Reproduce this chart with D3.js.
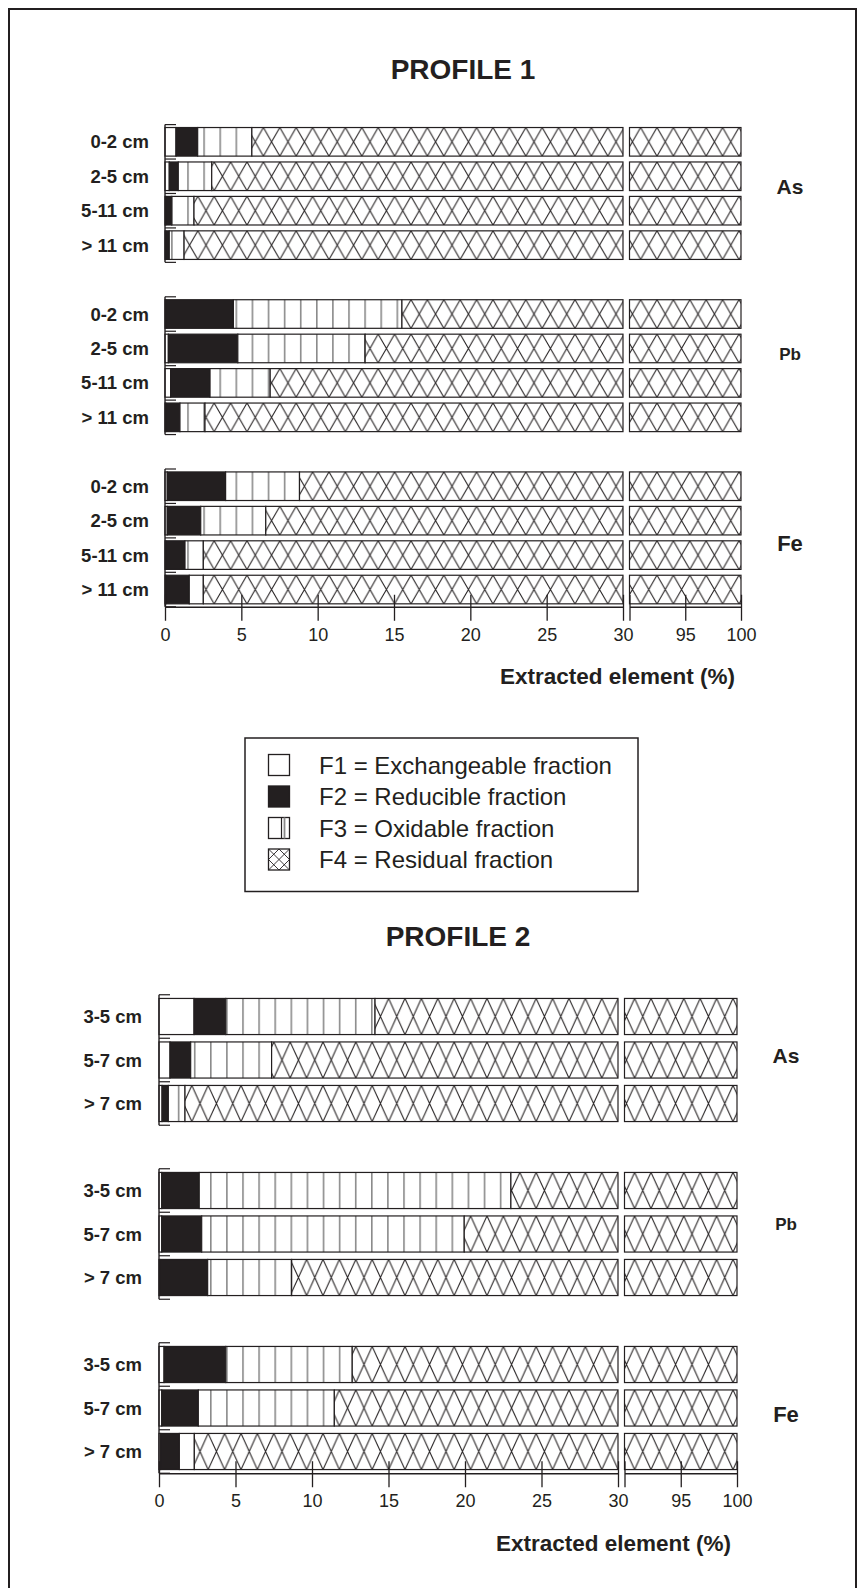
<!DOCTYPE html>
<html><head><meta charset="utf-8">
<script src="https://cdn.jsdelivr.net/npm/d3@7"></script>
<style>
body{margin:0;background:#fff;}
svg text{font-family:"Liberation Sans",Arial,Helvetica,sans-serif;fill:#231f20;}
</style></head><body>
<svg id="chart" width="863" height="1588"></svg>
<script>
// ---------- DATA ----------
const fractions = ["F1","F2","F3","F4"];
const legendLabels = ["F1 = Exchangeable fraction","F2 = Reducible fraction","F3 = Oxidable fraction","F4 = Residual fraction"];
const elements = ["As","Pb","Fe"];
const depths1 = ["0-2 cm","2-5 cm","5-11 cm","> 11 cm"];
const depths2 = ["3-5 cm","5-7 cm","> 7 cm"];
const tickLow = [0,5,10,15,20,25,30];
const tickHigh = [90,95,100];
const tickHighLabels = ["","95","100"];
const axisTitle = "Extracted element (%)";

// rows: [F1, F2, F3, F4] in % for each depth
const p1As = [[0.72,1.42,3.55,94.31],[0.28,0.59,2.19,96.94],[0.05,0.39,1.46,98.10],[0.05,0.23,0.97,98.75]];
const p1Pb = [[0.05,4.43,11.04,84.48],[0.22,4.55,8.34,86.89],[0.37,2.58,3.94,93.11],[0.05,0.93,1.64,97.38]];
const p1Fe = [[0.15,3.82,4.84,91.19],[0.15,2.19,4.26,93.40],[0.05,1.26,1.20,97.49],[0.05,1.54,0.92,97.49]];
const p2As = [[2.29,2.07,9.76,85.88],[0.72,1.35,5.29,92.64],[0.20,0.41,1.09,98.30]];
const p2Pb = [[0.18,2.45,20.37,77.00],[0.18,2.61,17.16,80.05],[0.05,3.13,5.49,91.33]];
const p2Fe = [[0.33,4.03,8.27,87.37],[0.18,2.39,8.89,88.54],[0.11,1.22,0.98,97.69]];

// ---------- LAYOUT ----------
const INK = "#231f20";
const charts = [
  {id:"p1", title:"PROFILE 1", titleX:463, titleY:69, depths:depths1,
   data:{As:p1As, Pb:p1Pb, Fe:p1Fe},
   x0:165, xa:623, xb:629.5, x1:741, top:124.6, step:34.44,
   stripeX:203.3, labelEnd:149, elemX:790, elemY:{As:186, Pb:354, Fe:543}},
  {id:"p2", title:"PROFILE 2", titleX:458, titleY:936, depths:depths2,
   data:{As:p2As, Pb:p2Pb, Fe:p2Fe},
   x0:159, xa:618, xb:624.5, x1:737, top:994.75, step:43.5,
   stripeX:210, labelEnd:142, elemX:786, elemY:{As:1055, Pb:1224, Fe:1414}}
];

const svg = d3.select("#chart");
const defs = svg.append("defs");

// outer frame
svg.append("rect").attr("x",9).attr("y",9).attr("width",847).attr("height",1620)
  .attr("fill","none").attr("stroke",INK).attr("stroke-width",2);

charts.forEach(c => {
  const keys = [];
  elements.forEach((e,g) => {
    if (g>0) keys.push("gap"+g);
    c.depths.forEach(d => keys.push(e+"|"+d));
  });
  const bottom = c.top + keys.length*c.step;
  const y = d3.scaleBand().domain(keys).range([c.top, bottom]).padding(0);
  const barOff = c.step*0.085, barH = c.step*0.83;

  const x = d3.scaleLinear().domain([0,30,90,100]).range([c.x0,c.xa,c.xb,c.x1]);
  const pieces = [[0,30],[90,100]];

  const sp = defs.append("pattern").attr("id","stripes-"+c.id)
    .attr("patternUnits","userSpaceOnUse").attr("x",c.stripeX).attr("y",0)
    .attr("width",16.1).attr("height",10);
  sp.append("rect").attr("width",16.1).attr("height",10).attr("fill","#fff");
  sp.append("line").attr("x1",0.8).attr("x2",0.8).attr("y1",0).attr("y2",10)
    .attr("stroke","#8a8a8a").attr("stroke-width",1.6);

  const g = svg.append("g");

  g.append("text").attr("x",c.titleX).attr("y",c.titleY).attr("text-anchor","middle")
    .attr("dominant-baseline","central").attr("font-size",28).attr("font-weight","bold").text(c.title);

  elements.forEach(e => {
    const rows = c.data[e];
    c.depths.forEach((d,i) => {
      const key = e+"|"+d;
      const by = y(key) + barOff;
      const hid = "hatch-"+c.id+"-"+e+"-"+i;
      const hw = 16.4;
      const hp = defs.append("pattern").attr("id",hid).attr("patternUnits","userSpaceOnUse")
        .attr("x",c.x0).attr("y",by).attr("width",hw).attr("height",barH);
      hp.append("rect").attr("width",hw).attr("height",barH).attr("fill","#fff");
      hp.append("path").attr("d",`M0,0L${hw},${barH}M${hw},0L0,${barH}M${-hw},0L0,${barH}M${hw},0L${2*hw},${barH}M0,0L${-hw},${barH}M${2*hw},0L${hw},${barH}`)
        .attr("stroke",INK).attr("stroke-width",1.1).attr("fill","none");
      const fills = ["#fff", INK, "url(#stripes-"+c.id+")", "url(#"+hid+")"];
      let cum = 0;
      rows[i].forEach((v,k) => {
        const s = cum, en = cum + v; cum = en;
        pieces.forEach(([lo,hi]) => {
          const a = Math.max(s,lo), b = Math.min(en,hi);
          if (b > a) {
            g.append("rect").attr("x",x(a)).attr("y",by)
              .attr("width",Math.max(0.01,x(b)-x(a))).attr("height",barH)
              .attr("fill",fills[k]).attr("stroke",INK).attr("stroke-width",1.2);
          }
        });
      });
      g.append("text").attr("x",c.labelEnd).attr("y",y(key)+c.step/2)
        .attr("text-anchor","end").attr("dominant-baseline","central")
        .attr("font-size",18.5).attr("font-weight","bold").text(d);
    });
    const first = y(e+"|"+c.depths[0]);
    const last = y(e+"|"+c.depths[c.depths.length-1]) + c.step;
    g.append("line").attr("x1",c.x0).attr("x2",c.x0).attr("y1",first).attr("y2",last)
      .attr("stroke",INK).attr("stroke-width",1.4);
    const edges = c.depths.map(dd => y(e+"|"+dd)).concat([last]);
    edges.forEach(ey => g.append("line").attr("x1",c.x0).attr("x2",c.x0+11)
      .attr("y1",ey).attr("y2",ey).attr("stroke",INK).attr("stroke-width",1.2));
    g.append("text").attr("x",c.elemX).attr("y",c.elemY[e]).attr("text-anchor","middle")
      .attr("dominant-baseline","central").attr("font-weight","bold")
      .attr("font-size", e==="Pb" ? 17 : (e==="Fe" ? 22 : 21)).text(e);
  });

  const xLow = d3.scaleLinear().domain([0,30]).range([c.x0,c.xa]);
  const xHigh = d3.scaleLinear().domain([90,100]).range([c.xb,c.x1]);
  const axLow = d3.axisBottom(xLow).tickValues(tickLow).tickSizeOuter(0).tickSizeInner(14).tickPadding(7);
  const axHigh = d3.axisBottom(xHigh).tickValues(tickHigh).tickSizeOuter(0).tickSizeInner(14).tickPadding(7)
    .tickFormat((v,i) => tickHighLabels[i]);
  [axLow, axHigh].forEach(ax => {
    const ag = g.append("g").attr("transform",`translate(0,${bottom})`).call(ax);
    ag.select(".domain").attr("stroke",INK).attr("stroke-width",1.4);
    ag.selectAll(".tick line").attr("stroke",INK).attr("stroke-width",1.3).attr("y1",-12);
    ag.selectAll(".tick text").attr("font-size",18).attr("fill",INK)
      .style("font-family",'"Liberation Sans",Arial,sans-serif');
  });
  g.append("text").attr("x",c.x1-6).attr("y",bottom+70).attr("text-anchor","end")
    .attr("dominant-baseline","central").attr("font-size",22.5).attr("font-weight","bold").text(axisTitle);
});

// legend
const lg = svg.append("g");
lg.append("rect").attr("x",245).attr("y",738).attr("width",393).attr("height",153.5)
  .attr("fill","#fff").attr("stroke",INK).attr("stroke-width",1.5);
const ly = d3.scalePoint().domain(fractions).range([765,859.5]);
fractions.forEach((f,i) => {
  const cy = ly(f), sx = 268.5, s = 21;
  const sy = cy - s/2;
  lg.append("rect").attr("x",sx).attr("y",sy).attr("width",s).attr("height",s)
    .attr("fill", f==="F2" ? INK : "#fff").attr("stroke",INK).attr("stroke-width",1.3);
  if (f==="F3") {
    lg.append("line").attr("x1",sx+13).attr("x2",sx+13).attr("y1",sy).attr("y2",sy+s).attr("stroke",INK).attr("stroke-width",1.2);
    lg.append("line").attr("x1",sx+16).attr("x2",sx+16).attr("y1",sy).attr("y2",sy+s).attr("stroke","#8a8a8a").attr("stroke-width",1.8);
  }
  if (f==="F4") {
    lg.append("path").attr("d",`M${sx},${sy}L${sx+s},${sy+s}M${sx+s},${sy}L${sx},${sy+s}M${sx+s/2},${sy}L${sx+s},${sy+s/2}L${sx+s/2},${sy+s}L${sx},${sy+s/2}Z`)
      .attr("fill","none").attr("stroke",INK).attr("stroke-width",0.9);
  }
  lg.append("text").attr("x",319).attr("y",cy).attr("dominant-baseline","central")
    .attr("font-size",24).text(legendLabels[i]);
});
</script>
</body></html>
